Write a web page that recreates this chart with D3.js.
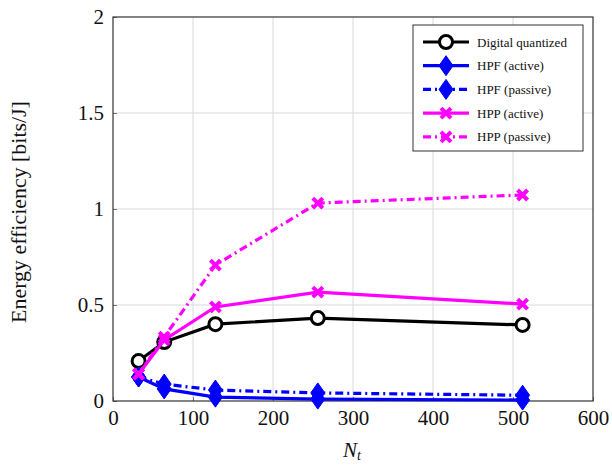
<!DOCTYPE html>
<html><head><meta charset="utf-8">
<script src="https://cdn.jsdelivr.net/npm/d3@7"></script>
<style>body{margin:0;background:#fff}svg{display:block}svg text{font-family:"Liberation Serif","Times New Roman","DejaVu Serif",serif !important}</style>
</head><body><svg id="c" width="612" height="465"></svg>
<script>
const Nt = [32, 64, 128, 256, 512];
const digitalQuantized = [0.208, 0.307, 0.400, 0.432, 0.396];
const hpfActive = [0.125, 0.063, 0.020, 0.010, 0.005];
const hpfPassive = [0.125, 0.088, 0.057, 0.042, 0.030];
const hppActive = [0.140, 0.318, 0.490, 0.567, 0.505];
const hppPassive = [0.140, 0.333, 0.708, 1.031, 1.073];
const xTicks = [0, 100, 200, 300, 400, 500, 600];
const yTicks = [0, 0.5, 1, 1.5, 2];
const yTickLabels = ["0", "0.5", "1", "1.5", "2"];
const seriesNames = ["Digital quantized", "HPF (active)", "HPF (passive)", "HPP (active)", "HPP (passive)"];

const svg = d3.select("#c");
const L = 113, R = 593, T = 17, B = 401;
const x = d3.scaleLinear().domain([0, 600]).range([L, R]);
const y = d3.scaleLinear().domain([0, 2]).range([B, T]);

// grid
svg.append("g").selectAll("line").data(xTicks.slice(1, -1)).join("line")
  .attr("x1", d => x(d)).attr("x2", d => x(d)).attr("y1", T).attr("y2", B)
  .attr("stroke", "#d9d9d9").attr("stroke-width", 1);
svg.append("g").selectAll("line").data(yTicks.slice(1, -1)).join("line")
  .attr("y1", d => y(d)).attr("y2", d => y(d)).attr("x1", L).attr("x2", R)
  .attr("stroke", "#d9d9d9").attr("stroke-width", 1);

// axes
const xa = svg.append("g").attr("transform", `translate(0,${B})`)
  .call(d3.axisBottom(x).tickValues(xTicks).tickSize(-4).tickPadding(6).tickFormat(d3.format("d")));
const ya = svg.append("g").attr("transform", `translate(${L},0)`)
  .call(d3.axisLeft(y).tickValues(yTicks).tickSize(-4).tickPadding(9).tickFormat((d, i) => yTickLabels[i]));
[xa, ya].forEach(a => {
  a.attr("font-family", null);
  a.select(".domain").remove();
  a.selectAll(".tick line").attr("stroke", "#777");
  a.selectAll("text").attr("font-size", 21).attr("fill", "#111");
});
xa.selectAll("text").attr("dy", "0.85em");
svg.append("rect").attr("x", L).attr("y", T).attr("width", R - L).attr("height", B - T)
  .attr("fill", "none").attr("stroke", "#333").attr("stroke-width", 1.2);

// labels
const yl = svg.append("text").attr("transform", `translate(26,${212}) rotate(-90)`)
  .attr("text-anchor", "middle").attr("font-size", 20).attr("fill", "#111")
  .text("Energy efficiency [bits/J]");
const w = yl.node().getComputedTextLength();
if (w > 0) yl.attr("font-size", 20 * 222 / w);
const xl = svg.append("text").attr("x", 352).attr("y", 457).attr("text-anchor", "middle")
  .attr("font-size", 21).attr("fill", "#111");
xl.append("tspan").attr("font-style", "italic").text("N");
xl.append("tspan").attr("font-style", "italic").attr("font-size", 14).attr("dy", 3).text("t");

const dashDot = "8,4,2,4";
const series = [
  {name: seriesNames[0], vals: digitalQuantized, color: "#000", dash: null, marker: "circle"},
  {name: seriesNames[1], vals: hpfActive, color: "#0000ff", dash: null, marker: "diamond"},
  {name: seriesNames[2], vals: hpfPassive, color: "#0000ff", dash: dashDot, marker: "diamond"},
  {name: seriesNames[3], vals: hppActive, color: "#ff00ff", dash: null, marker: "cross"},
  {name: seriesNames[4], vals: hppPassive, color: "#ff00ff", dash: dashDot, marker: "cross"}
];

function drawMarker(g, type, color, cx, cy) {
  if (type === "circle") {
    g.append("circle").attr("cx", cx).attr("cy", cy).attr("r", 6.5)
      .attr("fill", "#fff").attr("stroke", color).attr("stroke-width", 3);
  } else if (type === "diamond") {
    g.append("path").attr("d", `M${cx},${cy - 10}L${cx + 7},${cy}L${cx},${cy + 10}L${cx - 7},${cy}Z`)
      .attr("fill", color).attr("stroke", color).attr("stroke-width", 1);
  } else {
    const s = 5;
    g.append("path").attr("d", `M${cx - s},${cy - s}L${cx + s},${cy + s}M${cx - s},${cy + s}L${cx + s},${cy - s}`)
      .attr("stroke", color).attr("stroke-width", 4).attr("fill", "none");
  }
}

const line = d3.line().x(d => x(d[0])).y(d => y(d[1]));
series.forEach(s => {
  const g = svg.append("g");
  const pts = Nt.map((n, i) => [n, s.vals[i]]);
  g.append("path").datum(pts).attr("d", line).attr("fill", "none")
    .attr("stroke", s.color).attr("stroke-width", 3.2)
    .attr("stroke-dasharray", s.dash);
  pts.forEach(p => drawMarker(g, s.marker, s.color, x(p[0]), y(p[1])));
});

// legend
const lg = svg.append("g");
lg.append("rect").attr("x", 413).attr("y", 25).attr("width", 170).attr("height", 126)
  .attr("fill", "#fff").attr("stroke", "#333").attr("stroke-width", 1);
series.forEach((s, i) => {
  const yy = 42 + i * 23.7;
  lg.append("line").attr("x1", 423).attr("x2", 469).attr("y1", yy).attr("y2", yy)
    .attr("stroke", s.color).attr("stroke-width", 3.2).attr("stroke-dasharray", s.dash);
  drawMarker(lg, s.marker, s.color, 446, yy);
  lg.append("text").attr("x", 477).attr("y", yy + 4.5).attr("font-size", 13).attr("fill", "#111").text(s.name);
});
</script></body></html>
